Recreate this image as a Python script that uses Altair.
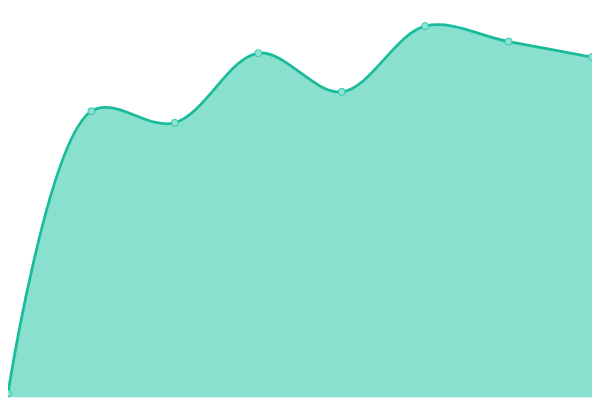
import altair as alt
import pandas as pd

idx = [0, 1, 2, 3, 4, 5, 6, 7]
values = [1, 74, 71, 89, 79, 96, 92, 88]

df = pd.DataFrame({"i": idx, "v": values})

x = alt.X("i:Q", scale=alt.Scale(domain=[0, 7], nice=False, zero=False), axis=None)
y = alt.Y("v:Q", scale=alt.Scale(domain=[0, 100], nice=False), axis=None)

base = alt.Chart(df).encode(x=x, y=y)

area = base.mark_area(interpolate="catmull-rom", color="#89e0cf", opacity=1)
line = base.mark_line(interpolate="catmull-rom", color="#1abc9c", strokeWidth=2.8)
pts = base.mark_point(filled=True, size=50, fill="#8fe3d2", stroke="#2ec4a6",
                      strokeWidth=1, opacity=1)

chart = (area + line + pts).properties(
    width=592, height=392, padding=0,
    autosize=alt.AutoSizeParams(type="none")
).configure(background="white").configure_view(stroke=None, strokeWidth=0)

chart.save("out.html", embed_options={"renderer": "svg", "actions": False})
